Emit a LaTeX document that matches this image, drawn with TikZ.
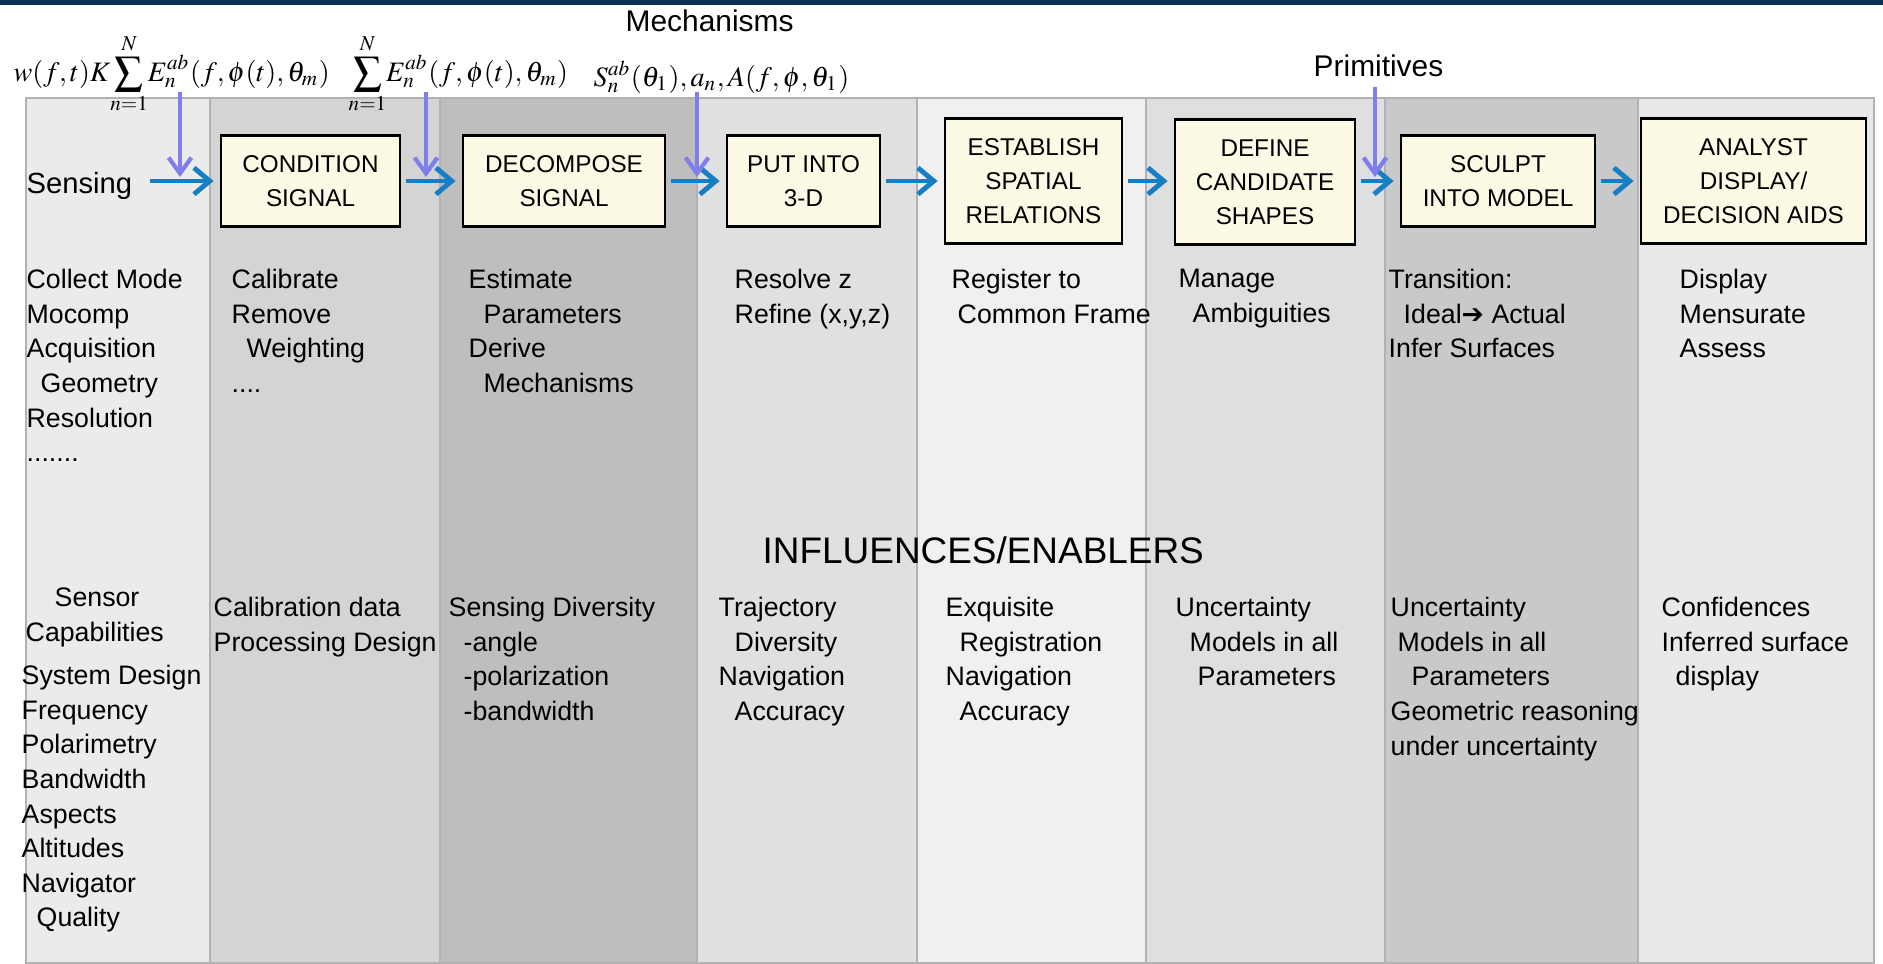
\documentclass[tikz,border=0pt]{standalone}
\usepackage{mathptmx}
\usepackage[no-math]{fontspec}
\setmainfont{Liberation Sans}
\newfontfamily\dejavu{DejaVu Sans}
\usetikzlibrary{arrows.meta}

\definecolor{topbar}{RGB}{12,46,84}
\definecolor{stagefill}{RGB}{252,249,228}
\definecolor{flowblue}{RGB}{24,126,196}
\definecolor{feedlilac}{RGB}{126,126,236}

\newdimen\pxu \pxu=0.1mm
\newcommand{\ipx}[1]{\hspace*{#1\pxu}}

\begin{document}
\begin{tikzpicture}[x=0.01cm, y=-0.01cm,
    stage/.style={draw, line width=0.75pt, fill=stagefill, align=center, inner sep=0pt,
                  font=\fontsize{6.9}{9.6}\selectfont},
    flow/.style={-{Straight Barb[length=4.5pt,width=7.5pt]}, line width=1.4pt, flowblue,
                 shorten <=0.05cm, shorten >=0.06cm},
    feed/.style={-{Straight Barb[length=4.5pt,width=6.5pt]}, line width=1.2pt, feedlilac,
                 shorten >=0.04cm},
    note/.style={anchor=north west, yshift=5.3pt, align=left, inner sep=0pt,
                 font=\fontsize{7.6}{9.85}\selectfont,
                 execute at begin node=\rule{0pt}{7pt}},
    tag/.style={anchor=base west, inner sep=0pt, font=\fontsize{8.5}{10}\selectfont},
    eqn/.style={anchor=base west, inner sep=0pt, font=\fontsize{8}{10}\selectfont}
  ]
  \useasboundingbox (0,0) rectangle (1883,963);
  \fill[topbar] (0,0) rectangle (1883,5);
  \foreach \xa/\xb/\tone in {26/210/8, 210/440/17, 440/697/25.5, 697/917/12,
                             917/1146/6, 1146/1385/12.5, 1385/1638/21, 1638/1874/8.5}
    \draw[black!30, line width=0.5pt, fill=black!\tone] (\xa,98) rectangle (\xb,963);

  \node[eqn] (eqa) at (13,81) {$\displaystyle w(f,t)K\!\sum_{n=1}^{N}\!E_n^{ab}(f,\phi(t),\theta_m)$};
  \node[eqn] (eqb) at (348,81) {$\displaystyle \sum_{n=1}^{N}\!E_n^{ab}(f,\phi(t),\theta_m)$};
  \node[eqn] (eqc) at (593,86) {$S_n^{ab}(\theta_1),a_n,A(f,\phi,\theta_1)$};
  \node[tag] (mech) at (625,31) {Mechanisms};
  \node[tag] (prim) at (1313,76) {Primitives};

  \node[anchor=base west, inner sep=0pt, font=\fontsize{8.3}{10}\selectfont] (sense) at (26,193) {Sensing};
  \node[stage, minimum width=1.79cm, minimum height=0.91cm] (cond) at (310.5,181) {CONDITION\\SIGNAL};
  \node[stage, minimum width=2.02cm, minimum height=0.91cm] (deco) at (564,181) {DECOMPOSE\\SIGNAL};
  \node[stage, minimum width=1.53cm, minimum height=0.91cm] (put) at (803.5,181) {PUT INTO\\3-D};
  \node[stage, minimum width=1.77cm, minimum height=1.25cm] (est) at (1033.5,181) {ESTABLISH\\SPATIAL\\RELATIONS};
  \node[stage, minimum width=1.80cm, minimum height=1.25cm] (def) at (1265,182) {DEFINE\\CANDIDATE\\SHAPES};
  \node[stage, minimum width=1.94cm, minimum height=0.91cm] (sculpt) at (1498,181) {SCULPT\\INTO MODEL};
  \node[stage, minimum width=2.25cm, minimum height=1.25cm] (aids) at (1753.5,181) {ANALYST\\DISPLAY/\\DECISION AIDS};

  \draw[flow, shorten <=0.17cm] (sense.east |- cond.west) -- (cond.west);
  \draw[flow] (cond) -- (deco);
  \draw[flow] (deco) -- (put);
  \draw[flow] (put) -- (est);
  \draw[flow] (est.east) -- (est.east -| def.west);
  \draw[flow] (def.east |- sculpt.west) -- (sculpt.west);
  \draw[flow] (sculpt) -- (aids);

  \coordinate (fa) at (180,92);
  \coordinate (fb) at (426,92);
  \coordinate (fc) at (697,92);
  \coordinate (fd) at (1375,87);
  \draw[feed] (fa) -- (fa |- cond.west);
  \draw[feed] (fb) -- (fb |- cond.west);
  \draw[feed] (fc) -- (fc |- cond.west);
  \draw[feed] (fd) -- (fd |- cond.west);

  \node[note] (doa) at (26,287) {Collect Mode\\Mocomp\\Acquisition\\\ipx{14}Geometry\\Resolution\\.......};
  \node[note] (dob) at (231,287) {Calibrate\\Remove\\\ipx{15}Weighting\\....};
  \node[note] (doc) at (468,287) {Estimate\\\ipx{15}Parameters\\Derive\\\ipx{15}Mechanisms};
  \node[note] (dod) at (734,287) {Resolve z\\Refine (x,y,z)};
  \node[note] (doe) at (951,287) {Register to\\\ipx{6}Common Frame};
  \node[note] (dof) at (1178,287) {Manage\\\ipx{14}Ambiguities};
  \node[note] (dog) at (1388,287) {Transition:\\\ipx{15}Ideal{\dejavu ➔} Actual\\Infer Surfaces};
  \node[note] (doh) at (1679,287) {Display\\Mensurate\\Assess};

  \node[anchor=base west, inner sep=0pt, font=\fontsize{10.5}{12}\selectfont] (infl) at (762,563) {INFLUENCES/ENABLERS};

  \node[note] (ena) at (21,606) {\ipx{33}Sensor\\\ipx{4}Capabilities};
  \node[note] (enb) at (21,683) {System Design\\Frequency\\Polarimetry\\Bandwidth\\Aspects\\Altitudes\\Navigator\\\ipx{15}Quality};
  \node[note] (enc) at (213,615) {Calibration data\\Processing Design};
  \node[note] (end) at (448,615) {Sensing Diversity\\\ipx{15}-angle\\\ipx{15}-polarization\\\ipx{15}-bandwidth};
  \node[note] (ene) at (718,615) {Trajectory\\\ipx{16}Diversity\\Navigation\\\ipx{16}Accuracy};
  \node[note] (enf) at (945,615) {Exquisite\\\ipx{14}Registration\\Navigation\\\ipx{14}Accuracy};
  \node[note] (eng) at (1175,615) {Uncertainty\\\ipx{14}Models in all\\\ipx{22}Parameters};
  \node[note] (enh) at (1390,615) {Uncertainty\\\ipx{7}Models in all\\\ipx{21}Parameters\\Geometric reasoning\\under uncertainty};
  \node[note] (eni) at (1661,615) {Confidences\\Inferred surface\\\ipx{14}display};
\end{tikzpicture}
\end{document}
